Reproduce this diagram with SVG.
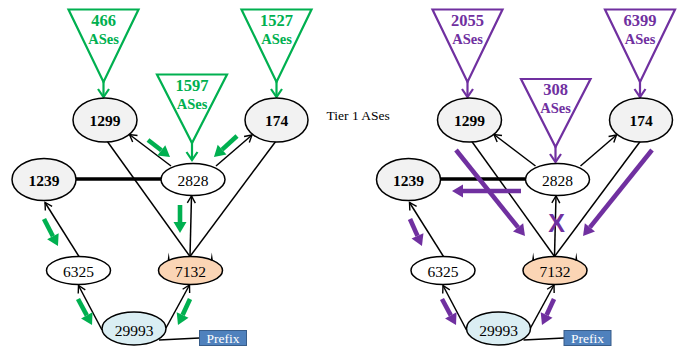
<svg xmlns="http://www.w3.org/2000/svg" width="684" height="348" viewBox="0 0 684 348" font-family="'Liberation Serif', 'Times New Roman', serif">
  <style>
    .node { stroke: #000; stroke-width: 1.5; }
    .t1 { fill: #F2F2F2; }
    .plain { fill: #FFFFFF; }
    .origin { fill: #FBD5B5; }
    .victim { fill: #DAEEF3; }
    .lbl { font-size: 15.5px; text-anchor: middle; fill: #000; }
    .bold { font-weight: bold; }
    .link { stroke: #000; stroke-width: 1.5; fill: none; }
    .arr { stroke: #000; stroke-width: 1.5; fill: none; marker-end: url(#chev); }
    .peer { stroke: #000; stroke-width: 3.5; }
    .tri-g { fill: none; stroke: #00B050; stroke-width: 2.2; stroke-linejoin: miter; }
    .tri-p { fill: none; stroke: #7030A0; stroke-width: 2.2; stroke-linejoin: miter; }
    .feed-g { stroke: #00B050; stroke-width: 2.2; fill: none; marker-end: url(#chev-g); }
    .feed-p { stroke: #7030A0; stroke-width: 2.2; fill: none; marker-end: url(#chev-p); }
    .num { font-weight: bold; font-size: 16.5px; text-anchor: middle; }
    .ases { font-weight: bold; font-size: 14.5px; text-anchor: middle; }
    .green { fill: #00B050; }
    .purple { fill: #7030A0; }
    .flow-g { stroke: #00B050; stroke-width: 4.6; fill: none; marker-end: url(#head-g); }
    .flow-p { stroke: #7030A0; stroke-width: 4.6; fill: none; marker-end: url(#head-p); }
    .prefix-box { fill: #4F81BD; stroke: #385D8A; stroke-width: 1; }
    .prefix-txt { font-size: 13.5px; fill: #FFFFFF; text-anchor: middle; }
  </style>
  <defs>
    <marker id="chev" markerUnits="userSpaceOnUse" markerWidth="12" markerHeight="12" viewBox="-8 -6 12 12" refX="0" refY="0" orient="auto" overflow="visible">
      <path d="M-7,-4 L0,0 L-7,4" fill="none" stroke="#000" stroke-width="1.4"/>
    </marker>
    <marker id="chev-g" markerUnits="userSpaceOnUse" markerWidth="14" markerHeight="14" viewBox="-10 -7 14 14" refX="0" refY="0" orient="auto" overflow="visible">
      <path d="M-8,-5.5 L0,0 L-8,5.5" fill="none" stroke="#00B050" stroke-width="2.2"/>
    </marker>
    <marker id="chev-p" markerUnits="userSpaceOnUse" markerWidth="14" markerHeight="14" viewBox="-10 -7 14 14" refX="0" refY="0" orient="auto" overflow="visible">
      <path d="M-8,-5.5 L0,0 L-8,5.5" fill="none" stroke="#7030A0" stroke-width="2.2"/>
    </marker>
    <marker id="head-g" markerUnits="userSpaceOnUse" markerWidth="14" markerHeight="14" viewBox="0 -7 14 14" refX="0" refY="0" orient="auto" overflow="visible">
      <path d="M0,-6.5 L11,0 L0,6.5 z" fill="#00B050"/>
    </marker>
    <marker id="head-p" markerUnits="userSpaceOnUse" markerWidth="14" markerHeight="14" viewBox="0 -7 14 14" refX="0" refY="0" orient="auto" overflow="visible">
      <path d="M0,-6.5 L11,0 L0,6.5 z" fill="#7030A0"/>
    </marker>
  </defs>

  <rect width="684" height="348" fill="#FFFFFF"/>

  <!-- ===== Left scenario ===== -->
  <g id="panel-left">
    <g id="connectors-left">
      <line class="peer" x1="76" y1="179" x2="161" y2="179"/>
      <line class="link" x1="107" y1="141" x2="190" y2="256.5"/>
      <line class="link" x1="276" y1="141" x2="190" y2="256.5"/>
      <line class="arr" x1="190" y1="256.5" x2="191.5" y2="196"/>
      <line class="arr" x1="171" y1="166" x2="129.5" y2="134.5"/>
      <line class="arr" x1="216" y1="166" x2="252" y2="135"/>
      <line class="arr" x1="79" y1="256.5" x2="45" y2="202.5"/>
      <line class="arr" x1="102" y1="330" x2="78.5" y2="285.5"/>
      <line class="arr" x1="166" y1="328" x2="189.5" y2="285"/>
      <line class="link" x1="159" y1="340" x2="199.5" y2="338"/>
      <line class="feed-g" x1="103.5" y1="81" x2="103.5" y2="97"/>
      <line class="feed-g" x1="276.5" y1="81" x2="276.5" y2="97"/>
      <line class="feed-g" x1="192" y1="142" x2="192" y2="160"/>
    </g>

    <g id="cone-466">
      <polygon class="tri-g" points="68.5,9.5 138.5,9.5 103.5,82"/>
      <text class="num green" x="103.5" y="26">466</text>
      <text class="ases green" x="103.5" y="44">ASes</text>
    </g>
    <g id="cone-1527">
      <polygon class="tri-g" points="241.5,9.5 311.5,9.5 276.5,82"/>
      <text class="num green" x="276.5" y="26">1527</text>
      <text class="ases green" x="276.5" y="44">ASes</text>
    </g>
    <g id="cone-1597">
      <polygon class="tri-g" points="157,74.5 227,74.5 192,143"/>
      <text class="num green" x="192" y="91">1597</text>
      <text class="ases green" x="192" y="109">ASes</text>
    </g>

    <g id="as1299-l"><ellipse class="node t1" cx="105" cy="120" rx="32" ry="22"/><text class="lbl bold" x="105" y="125.5">1299</text></g>
    <g id="as174-l"><ellipse class="node t1" cx="276.5" cy="120" rx="31.5" ry="22"/><text class="lbl bold" x="276.5" y="125.5">174</text></g>
    <g id="as1239-l"><ellipse class="node t1" cx="44" cy="179.5" rx="32" ry="21"/><text class="lbl bold" x="44" y="185.5">1239</text></g>
    <g id="as2828-l"><ellipse class="node plain" cx="193" cy="179.5" rx="32" ry="16"/><text class="lbl" x="193" y="186">2828</text></g>
    <g id="as6325-l"><ellipse class="node plain" cx="78.5" cy="270.5" rx="32" ry="14"/><text class="lbl" x="78.5" y="276.5">6325</text></g>
    <g id="as7132-l">
      <ellipse class="node origin" cx="190.5" cy="270.5" rx="32" ry="14"/>
      <path d="M167.6,260.5 L168.7,252.5 L169.8,260.5 Z M210.7,260.5 L211.8,252.5 L212.9,260.5 Z" fill="#000"/>
      <text class="lbl" x="190.5" y="276.5">7132</text>
    </g>
    <g id="as29993-l"><ellipse class="node victim" cx="134" cy="328.5" rx="32" ry="16.5"/><text class="lbl" x="134" y="335.5">29993</text></g>
    <g id="prefix-l"><rect class="prefix-box" x="199.5" y="330.5" width="47" height="15"/><text class="prefix-txt" x="223" y="342.5">Prefix</text></g>

    <g id="flows-left">
      <line class="flow-g" x1="148" y1="140" x2="161.3" y2="150.3"/>
      <line class="flow-g" x1="237" y1="136" x2="222.1" y2="149.6"/>
      <line class="flow-g" x1="180" y1="205" x2="180" y2="222"/>
      <line class="flow-g" x1="44" y1="219" x2="52.9" y2="236.2"/>
      <line class="flow-g" x1="78" y1="299" x2="86.8" y2="315.3"/>
      <line class="flow-g" x1="190" y1="299" x2="182.6" y2="315"/>
    </g>
  </g>

  <text id="tier1-label" x="326.5" y="119.5" font-size="13.5" fill="#000">Tier 1 ASes</text>

  <!-- ===== Right scenario ===== -->
  <g id="panel-right" transform="translate(364.5 0)">
    <g id="connectors-right">
      <line class="peer" x1="76" y1="179" x2="161" y2="179"/>
      <line class="link" x1="107" y1="141" x2="190" y2="256.5"/>
      <line class="link" x1="276" y1="141" x2="190" y2="256.5"/>
      <line class="arr" x1="190" y1="256.5" x2="191.5" y2="196"/>
      <line class="arr" x1="171" y1="166" x2="129.5" y2="134.5"/>
      <line class="arr" x1="216" y1="166" x2="252" y2="135"/>
      <line class="arr" x1="79" y1="256.5" x2="45" y2="202.5"/>
      <line class="arr" x1="102" y1="330" x2="78.5" y2="285.5"/>
      <line class="arr" x1="166" y1="328" x2="189.5" y2="285"/>
      <line class="link" x1="159" y1="340" x2="199.5" y2="338"/>
      <line class="feed-p" x1="103" y1="81" x2="103" y2="97"/>
      <line class="feed-p" x1="275.5" y1="81" x2="275.5" y2="97"/>
      <line class="feed-p" x1="191" y1="146" x2="191" y2="162"/>
    </g>

    <g id="cone-2055">
      <polygon class="tri-p" points="68,9.5 138,9.5 103,82"/>
      <text class="num purple" x="103" y="26">2055</text>
      <text class="ases purple" x="103" y="44">ASes</text>
    </g>
    <g id="cone-6399">
      <polygon class="tri-p" points="240.5,9.5 310.5,9.5 275.5,82"/>
      <text class="num purple" x="275.5" y="26">6399</text>
      <text class="ases purple" x="275.5" y="44">ASes</text>
    </g>
    <g id="cone-308">
      <polygon class="tri-p" points="156.5,79 226,79 191,147"/>
      <text class="num purple" x="191" y="94.5">308</text>
      <text class="ases purple" x="191" y="112.5">ASes</text>
    </g>

    <g id="as1299-r"><ellipse class="node t1" cx="105" cy="120" rx="32" ry="22"/><text class="lbl bold" x="105" y="125.5">1299</text></g>
    <g id="as174-r"><ellipse class="node t1" cx="276.5" cy="120" rx="31.5" ry="22"/><text class="lbl bold" x="276.5" y="125.5">174</text></g>
    <g id="as1239-r"><ellipse class="node t1" cx="44" cy="179.5" rx="32" ry="21"/><text class="lbl bold" x="44" y="185.5">1239</text></g>
    <g id="as2828-r"><ellipse class="node plain" cx="193" cy="179.5" rx="32" ry="16"/><text class="lbl" x="193" y="186">2828</text></g>
    <g id="as6325-r"><ellipse class="node plain" cx="78.5" cy="270.5" rx="32" ry="14"/><text class="lbl" x="78.5" y="276.5">6325</text></g>
    <g id="as7132-r">
      <ellipse class="node origin" cx="190.5" cy="270.5" rx="32" ry="14"/>
      <path d="M167.6,260.5 L168.7,252.5 L169.8,260.5 Z M210.7,260.5 L211.8,252.5 L212.9,260.5 Z" fill="#000"/>
      <text class="lbl" x="190.5" y="276.5">7132</text>
    </g>
    <g id="as29993-r"><ellipse class="node victim" cx="134" cy="328.5" rx="32" ry="16.5"/><text class="lbl" x="134" y="335.5">29993</text></g>
    <g id="prefix-r"><rect class="prefix-box" x="199.5" y="330.5" width="47" height="15"/><text class="prefix-txt" x="223" y="342.5">Prefix</text></g>

    <g id="flows-right">
      <line class="flow-p" x1="91.5" y1="150" x2="153.6" y2="227.4"/>
      <line class="flow-p" x1="287.5" y1="150" x2="225.4" y2="227.4"/>
      <line class="flow-p" x1="156.5" y1="191" x2="98.5" y2="191"/>
      <line class="flow-p" x1="45.5" y1="219" x2="53" y2="235.9"/>
      <line class="flow-p" x1="77.5" y1="299" x2="86.3" y2="315.3"/>
      <line class="flow-p" x1="189.5" y1="299" x2="182.1" y2="315"/>
      <text x="192" y="231.5" font-family="'Liberation Sans', Arial, sans-serif" font-weight="bold" font-size="25" fill="#7030A0" text-anchor="middle">X</text>
    </g>
  </g>
</svg>
